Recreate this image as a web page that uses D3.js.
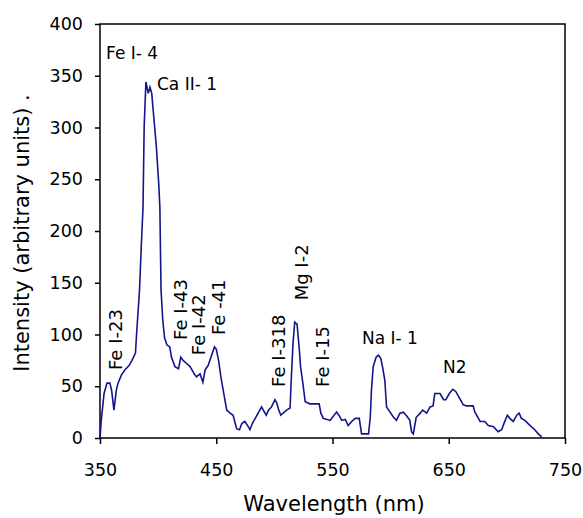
<!DOCTYPE html>
<html lang="en">
<head>
  <meta charset="utf-8" />
  <title>Emission spectrum</title>
  <script src="https://cdnjs.cloudflare.com/ajax/libs/d3/7.8.5/d3.min.js"></script>
  <style>
    body {
      margin: 0;
      background: #fff;
    }
    svg text {
      font-family: 'DejaVu Sans', sans-serif;
      fill: #000;
    }
  </style>
</head>
<body>
  <svg id="chart" width="583" height="518"></svg>

<script>
// spectrum
const wavelength = [350, 351, 353.5, 356, 358.5, 360, 362, 364, 365.5, 368.5, 371.5, 375, 377.5, 380.5, 381.5,
  384, 385.5, 387, 388, 389.5, 391.5, 393, 394.5, 395.5, 398.5, 400.5, 401.5, 402.5, 404, 405.5, 407.5, 410,
  411.5, 414.5, 417.5, 419.5, 421.5, 424.5, 427.5, 431, 433, 436, 438.5, 440.5, 443, 446, 448.5, 450, 452, 454,
  456, 459, 462, 464.5, 467.5, 470, 472, 474.5, 477, 479, 481, 484, 486, 489, 490.5, 493, 495, 497.5, 500.5,
  502, 503.5, 505.5, 507.5, 510.5, 513.5, 514.5, 516, 517.5, 519.5, 521.5, 522.5, 524.5, 526.5, 530.5, 538.5,
  540, 542, 548, 550, 553.5, 555.5, 558, 561, 563.5, 566.5, 569.5, 573, 575, 581, 582.5, 583.5, 585, 587.5,
  589.5, 591.5, 593, 595, 596.5, 599.5, 602.5, 605, 608, 611, 614, 616.5, 618, 619.5, 622, 625.5, 627.5, 631,
  634, 636.5, 638, 642.5, 645.5, 647.5, 650.5, 653.5, 656, 659.5, 662.5, 665.5, 671, 672.5, 677, 681, 684,
  688.5, 692.5, 695.5, 698.5, 700.5, 702.5, 705.5, 708.5, 710.5, 712.5, 715.5, 720, 724, 727, 730];
const intensity = [0, 16, 43, 53, 53, 46, 27, 46, 53, 61, 66, 70, 75, 82, 101,
  143, 185, 223, 301, 344, 333, 339, 333, 320, 281, 246, 223, 143, 114, 97, 90, 88,
  78, 69, 67, 78, 75, 72, 69, 62, 59, 62, 54, 66, 70, 80, 88, 86, 75, 59,
  46, 27, 24, 22, 9, 8, 14, 16, 12, 8, 14, 20, 24, 30, 27, 22, 27, 30, 37,
  34, 28, 22, 24, 27, 29, 56, 91, 112, 110, 85, 69, 53, 35, 33, 33,
  24, 19, 17, 20, 25, 22, 17, 18, 12, 16, 19, 19, 4, 4, 20, 46, 69, 78,
  80, 77, 69, 56, 30, 25, 20, 17, 24, 25, 21, 17, 6, 4, 20, 24, 27, 24,
  30, 31, 43, 43, 37, 37, 43, 47, 45, 38, 32, 31, 31, 25, 16, 16, 12,
  11, 6, 8, 17, 22, 19, 16, 22, 24, 19, 17, 12, 8, 4, 1];

const xTicks = [350, 450, 550, 650, 750];
const yTicks = [0, 50, 100, 150, 200, 250, 300, 350, 400];

// line labels: text, anchor wavelength, anchor intensity, rotated?
const labelText = ["Fe I- 4", "Ca II- 1", "Fe I-23", "Fe I-43", "Fe I-42", "Fe -41", "Fe I-318", "Mg I-2", "Fe I-15", "Na I- 1", "N2"];
const labelWave = [355.2, 399, 369, 424.8, 440.3, 457.5, 509, 529, 547, 575.4, 645];
const labelInt  = [366, 336, 65.7, 94.7, 80, 99.5, 49.3, 133, 49.3, 91, 63];
const labelVertical = [false, false, true, true, true, true, true, true, true, false, false];

const svg = d3.select("#chart"),
      margin = {top: 24, right: 18, bottom: 80, left: 100},
      width = +svg.attr("width") - margin.left - margin.right,
      height = +svg.attr("height") - margin.top - margin.bottom;

const g = svg.append("g").attr("transform", `translate(${margin.left},${margin.top})`);

const x = d3.scaleLinear().domain([350, 750]).range([0, width]);
const y = d3.scaleLinear().domain([0, 400]).range([height, 0]);

// axes
const yAxis = g.append("g")
  .call(d3.axisLeft(y).tickValues(yTicks).tickSize(5).tickSizeOuter(0).tickPadding(12));
const xAxis = g.append("g")
  .attr("transform", `translate(0,${height})`)
  .call(d3.axisBottom(x).tickValues(xTicks).tickSize(6).tickSizeOuter(0).tickPadding(20));

[xAxis, yAxis].forEach(ax => {
  ax.select(".domain").remove();
  ax.selectAll(".tick line").attr("stroke", "#000").attr("stroke-width", 1.5);
  ax.selectAll("text").style("font-size", "17.5px").attr("fill", "#000");
});

// frame
g.append("rect")
  .attr("x", 0).attr("y", 0)
  .attr("width", width).attr("height", height)
  .attr("fill", "none")
  .attr("stroke", "#000")
  .attr("stroke-width", 1.5);

// spectrum line
const points = wavelength.map((w, i) => ({w: w, v: intensity[i]}));
g.append("path")
  .datum(points)
  .attr("fill", "none")
  .attr("stroke", "#14148c")
  .attr("stroke-width", 1.6)
  .attr("stroke-linejoin", "miter")
  .attr("d", d3.line().x(d => x(d.w)).y(d => y(d.v)));

// line labels
labelText.forEach((t, i) => {
  const px = x(labelWave[i]), py = y(labelInt[i]);
  const txt = g.append("text").text(t);
  if (labelVertical[i]) {
    txt.attr("transform", `translate(${px},${py}) rotate(-90)`)
       .style("font-size", "18px");
  } else {
    txt.attr("x", px).attr("y", py).style("font-size", "17px");
  }
});

// axis titles
svg.append("text")
  .attr("x", 334)
  .attr("y", 511)
  .attr("text-anchor", "middle")
  .style("font-size", "21px")
  .text("Wavelength (nm)");

svg.append("text")
  .attr("transform", "translate(29,233) rotate(-90)")
  .attr("text-anchor", "middle")
  .style("font-size", "21px")
  .text("Intensity (arbitrary units) .");
</script>
</body>
</html>
